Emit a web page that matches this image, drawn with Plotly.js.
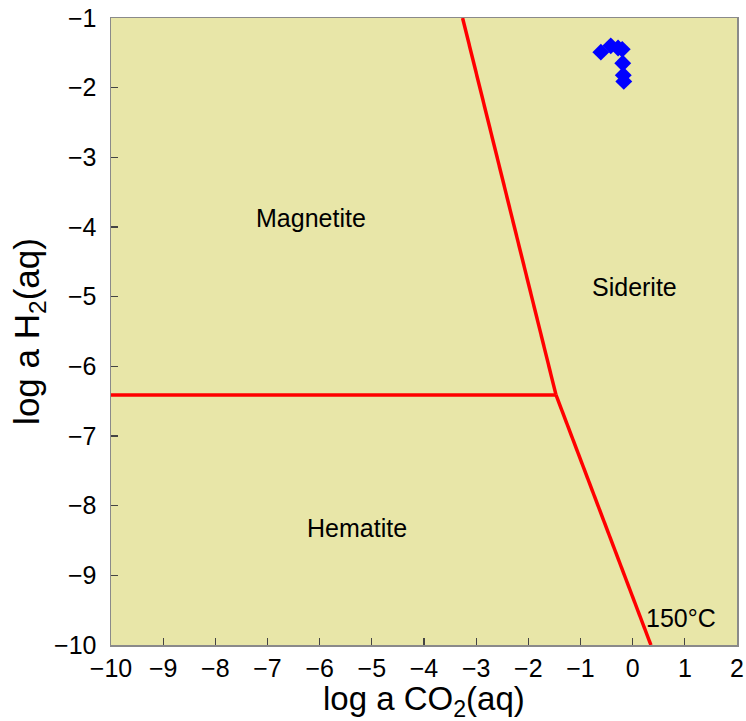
<!DOCTYPE html>
<html>
<head>
<meta charset="utf-8">
<script src="https://cdn.plot.ly/plotly-3.0.1.min.js"></script>
<style>html,body{margin:0;padding:0;background:#fff;}</style>
</head>
<body>
<div id="chart" style="width:746px;height:721px;"></div>
<script>
// Boundary lines (log a CO2, log a H2)
const boundaryUpperX = [-3.26, -1.47];
const boundaryUpperY = [-1, -6.41];
const boundaryLowerX = [-1.47, 0.35];
const boundaryLowerY = [-6.41, -10];
const boundaryHorizX = [-10, -1.47];
const boundaryHorizY = [-6.41, -6.41];
// Sample points
const sampleX = [-0.61, -0.42, -0.28, -0.20, -0.19, -0.18, -0.17];
const sampleY = [-1.49, -1.40, -1.43, -1.45, -1.65, -1.82, -1.91];
// Field labels
const fieldNames = ["Magnetite", "Siderite", "Hematite", "150°C"];
const fieldX = [-6.17, 0.03, -5.28, 0.93];
const fieldY = [-3.87, -4.86, -8.32, -9.61];
// Axis titles
const xTitle = "log a CO<sub>2</sub>(aq)";
const yTitle = "log a H<sub>2</sub>(aq)";

const FONT = "Liberation Sans, Arial, sans-serif";
const lineStyle = {color: "#ff0000", width: 3.5};
const traces = [
  {x: boundaryUpperX, y: boundaryUpperY, mode: "lines", line: lineStyle, hoverinfo: "skip"},
  {x: boundaryLowerX, y: boundaryLowerY, mode: "lines", line: lineStyle, hoverinfo: "skip"},
  {x: boundaryHorizX, y: boundaryHorizY, mode: "lines", line: lineStyle, hoverinfo: "skip"},
  {x: sampleX, y: sampleY, mode: "markers", marker: {symbol: "diamond", size: 13, color: "#0000ff"}}
];
const annotations = fieldNames.map((t, i) => ({
  x: fieldX[i], y: fieldY[i], text: t, showarrow: false,
  font: {size: 25, color: "#000", family: FONT},
  xanchor: "center", yanchor: "middle"
}));
annotations.push({
  xref: "paper", yref: "paper", x: 0.5, y: -0.089, text: xTitle, showarrow: false,
  font: {size: 33, color: "#000", family: FONT}, xanchor: "center", yanchor: "middle"
});
const axisCommon = {
  showgrid: false, zeroline: false, showline: true, mirror: true,
  linecolor: "#8a8a8a", linewidth: 1.5,
  ticks: "inside", ticklen: 7, tickcolor: "#444", tickwidth: 1.2,
  tickfont: {size: 25, color: "#000", family: FONT},
  dtick: 1
};
const layout = {
  width: 746, height: 721,
  margin: {l: 111, r: 9, t: 18, b: 76},
  paper_bgcolor: "#ffffff",
  plot_bgcolor: "rgb(232,230,168)",
  showlegend: false,
  xaxis: Object.assign({}, axisCommon, {
    range: [-10, 2], tick0: -10, ticklabelstandoff: 0
  }),
  yaxis: Object.assign({}, axisCommon, {
    range: [-10, -1], tick0: -10, ticklabelstandoff: 8,
    title: {text: yTitle, font: {size: 35, color: "#000", family: FONT}, standoff: 4}
  }),
  annotations: annotations
};
Plotly.newPlot("chart", traces, layout, {displayModeBar: false, staticPlot: true});
</script>
</body>
</html>
